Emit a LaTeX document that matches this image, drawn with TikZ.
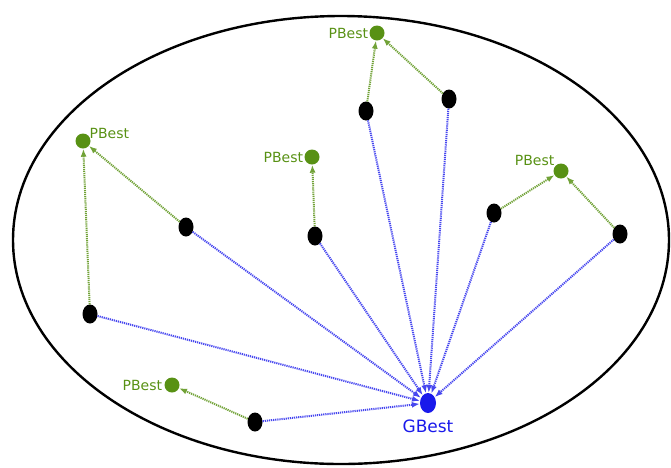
\documentclass[tikz,border=0pt]{standalone}
\usepackage{fontspec}
\setmainfont{DejaVu Sans}
\usepackage{tikz}
\usetikzlibrary{arrows.meta,positioning,shapes.geometric}
\definecolor{bestgreen}{RGB}{88,145,20}
\definecolor{bestblue}{RGB}{25,25,235}

\begin{document}
\begin{tikzpicture}
[x=1pt, y=-1pt, >={Latex[length=8pt,width=6pt]},
% STYLES
% The particle style is used for the current positions
particle/.style={ellipse, fill=black, inner sep=0pt, minimum width=15pt, minimum height=19pt},
% The pbest style is used for the best positions of each particle
pbest/.style={circle, fill=bestgreen, inner sep=0pt, minimum size=15pt},
% The gbest style is used for the global best
gbest/.style={ellipse, fill=bestblue, inner sep=0pt, minimum width=16pt, minimum height=20pt},
label/.style={font=\fontsize{14}{16}\selectfont, text=bestgreen, inner sep=1pt},
tolocal/.style={->, line width=2pt, dash pattern=on 1.2pt off 0.9pt, color=bestgreen!85},
toglobal/.style={->, line width=2pt, dash pattern=on 1.2pt off 0.9pt, color=bestblue!80}]

\useasboundingbox (0,0) rectangle (671,467);

% Draw the search space
\draw[line width=2.4pt] (341,240) ellipse (328 and 224);

% Draw particles
\node [particle] (p1) at (90,314) {};
\node [particle] (p2) at (186,227) {};
\node [particle] (p3) at (255,422) {};
\node [particle] (p4) at (315,236) {};
\node [particle] (p5) at (366,111) {};
\node [particle] (p6) at (449,99) {};
\node [particle] (p7) at (494,213) {};
\node [particle] (p8) at (620,234) {};

% Draw personal bests
\node [pbest] (pb1) at (83,141) {};
\node [pbest] (pb2) at (312,157) {};
\node [pbest] (pb3) at (377,33) {};
\node [pbest] (pb4) at (561,171) {};
\node [pbest] (pb5) at (172,385) {};

\node [label, above right=-4pt and 0pt of pb1] {PBest};
\node [label, left=0pt of pb2] {PBest};
\node [label, left=0pt of pb3] {PBest};
\node [label, above left=-1pt and 0pt of pb4] {PBest};
\node [label, left=1pt of pb5] {PBest};

% Draw global best
\node [gbest] (gb) at (428,403) {};
\node [label, text=bestblue, font=\fontsize{17}{19}\selectfont, below=5pt of gb] {GBest};

% Draw the moves towards the personal bests
\path[tolocal]
(p1) edge (pb1)
(p2) edge (pb1)
(p4) edge (pb2)
(p5) edge (pb3)
(p6) edge (pb3)
(p7) edge (pb4)
(p8) edge (pb4)
(p3) edge (pb5);

% Draw the moves towards the global best
\path[toglobal]
(p1) edge (gb)
(p2) edge (gb)
(p3) edge (gb)
(p4) edge (gb)
(p5) edge (gb)
(p6) edge (gb)
(p7) edge (gb)
(p8) edge (gb);

\end{tikzpicture}
\end{document}
